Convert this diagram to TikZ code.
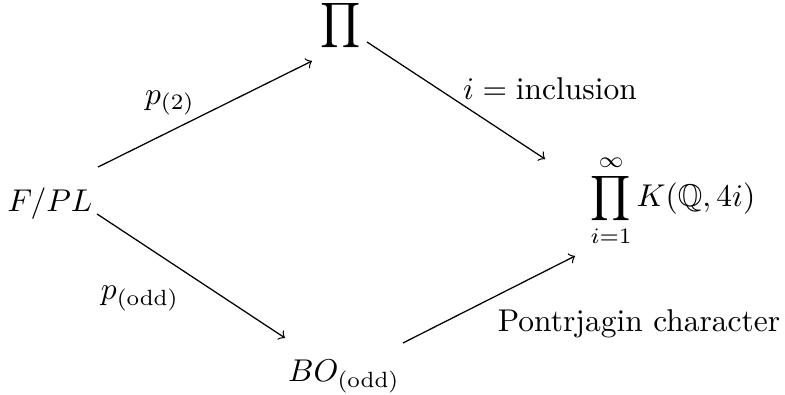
\documentclass[tikz,border=0pt]{standalone}
\usepackage{amsmath}
\usepackage{amssymb}
\usepackage{tikz}
\usetikzlibrary{arrows, positioning, calc}

\begin{document}
\begin{tikzpicture}
					[>=to, thin,
					space/.style={inner sep=0pt},
					maplabel/.style={inner sep=0pt},
					map/.style={->}
					]
					\useasboundingbox (0,0) rectangle (8.761,-4.408);
					
					% Nodes
					\node[space, anchor=base] (fpl) at (0.558,-2.366) {$F/PL$};
					\node[space, anchor=base] (prodtop) at (3.800,-0.373) {$\displaystyle\prod$};
					\node[space, anchor=base west] (prodK) at (6.585,-2.305) {$\displaystyle\prod_{i=1}^{\infty} K(\mathbb{Q},4i)$};
					\node[space, anchor=base] (bo) at (3.839,-4.263) {$BO_{(\mathrm{odd})}$};
					
					% Labels
					\node[maplabel, anchor=base] (ptwo) at (1.897,-1.161) {$p_{(2)}$};
					\node[maplabel, anchor=base] (podd) at (1.563,-3.348) {$p_{(\mathrm{odd})}$};
					\node[maplabel, anchor=base] (incl) at (6.138,-1.105) {$i = \text{inclusion}$};
					\node[maplabel, anchor=base] (pont) at (7.132,-3.705) {Pontrjagin character};
					
					% Arrows
					\draw[map] ([shift={(0.536,0.502)}]fpl.base) -- ([shift={(-0.318,-0.308)}]prodtop.base);
					\draw[map] ([shift={(0.296,-0.096)}]prodtop.base) -- ([shift={(-0.502,0.530)}]prodK.base west);
					\draw[map] ([shift={(0.525,-0.022)}]fpl.base) -- ([shift={(-0.658,0.491)}]bo.base);
					\draw[map] ([shift={(0.658,0.435)}]bo.base) -- ([shift={(-0.167,-0.552)}]prodK.base west);
				\end{tikzpicture}
\end{document}
